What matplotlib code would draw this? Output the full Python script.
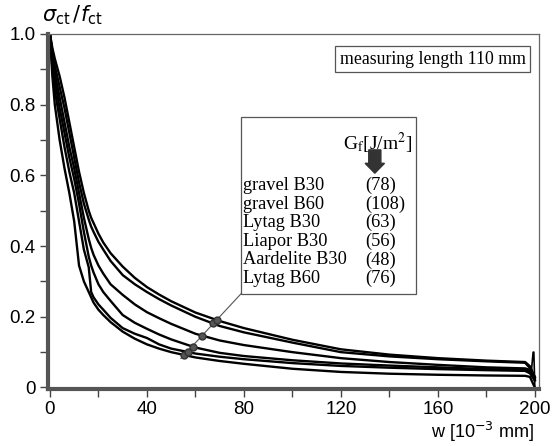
import matplotlib
matplotlib.use("Agg")
import matplotlib.pyplot as plt
from matplotlib.patches import FancyArrow
import numpy as np

# crack opening w [10^-3 mm], shared grid for all curves
w = [0, 1, 2, 4, 6, 8, 10, 12, 14, 16, 17, 18, 20, 22, 25, 30, 35, 40, 45, 50, 60, 70, 80,
     100, 120, 140, 160, 180, 196, 198, 200]

# normalised stress sigma_ct/f_ct, lowest curve first
curve_a = [1.0, 0.88, 0.80, 0.70, 0.62, 0.55, 0.47, 0.345, 0.30, 0.27, 0.255, 0.24,
           0.22, 0.205, 0.185, 0.158, 0.138, 0.122, 0.110, 0.100, 0.085, 0.075, 0.067,
           0.053, 0.044, 0.039, 0.036, 0.034, 0.033, 0.030, 0.0]
curve_b = [1.0, 0.90, 0.84, 0.76, 0.68, 0.61, 0.55, 0.47, 0.39, 0.34, 0.27, 0.255,
           0.235, 0.22, 0.197, 0.168, 0.152, 0.140, 0.122, 0.110, 0.096, 0.087, 0.080,
           0.069, 0.061, 0.056, 0.052, 0.049, 0.047, 0.040, 0.02]
curve_c = [1.0, 0.92, 0.87, 0.79, 0.72, 0.65, 0.59, 0.52, 0.44, 0.37, 0.345, 0.325,
           0.292, 0.27, 0.245, 0.205, 0.183, 0.166, 0.150, 0.136, 0.113, 0.098, 0.089,
           0.077, 0.068, 0.062, 0.057, 0.052, 0.050, 0.045, 0.025]
curve_d = [1.0, 0.94, 0.89, 0.82, 0.75, 0.68, 0.62, 0.55, 0.48, 0.42, 0.395, 0.375,
           0.345, 0.322, 0.292, 0.262, 0.235, 0.213, 0.196, 0.180, 0.152, 0.133, 0.120,
           0.100, 0.083, 0.072, 0.064, 0.057, 0.054, 0.050, 0.03]
curve_e = [1.0, 0.95, 0.91, 0.85, 0.79, 0.72, 0.65, 0.58, 0.52, 0.475, 0.455, 0.44,
           0.412, 0.39, 0.358, 0.318, 0.292, 0.270, 0.250, 0.232, 0.200, 0.174, 0.156,
           0.127, 0.100, 0.088, 0.080, 0.074, 0.070, 0.055, 0.02]
curve_f = [1.0, 0.96, 0.93, 0.88, 0.82, 0.75, 0.68, 0.61, 0.55, 0.50, 0.48, 0.465,
           0.435, 0.41, 0.38, 0.342, 0.310, 0.284, 0.263, 0.244, 0.212, 0.188, 0.168,
           0.135, 0.108, 0.093, 0.083, 0.076, 0.072, 0.060, 0.03]
curves = [curve_a, curve_b, curve_c, curve_d, curve_e, curve_f]

# little kink at the end of the test
spike_w = [198.5, 199.3, 199.6, 200]
spike_s = [0.04, 0.1, 0.1, 0.0]

# where the leader line crosses each curve
marker_w = [55.3, 56.9, 58.9, 62.7, 67.2, 68.9]

names = ["gravel B30", "gravel B60", "Lytag B30", "Liapor B30", "Aardelite B30", "Lytag B60"]
gf = ["(78)", "(108)", "(63)", "(56)", "(48)", "(76)"]

sans = ["Liberation Sans", "DejaVu Sans"]
serif = ["Liberation Serif", "DejaVu Serif"]

fig = plt.figure(figsize=(5.55, 4.46), dpi=100)
ax = fig.add_axes([0.0865, 0.128, 0.885, 0.796])

for s in curves:
    ax.plot(w, s, color="black", lw=1.7, solid_joinstyle="round")
ax.plot(spike_w, spike_s, color="black", lw=1.2)

for mw, s in zip(marker_w, curves):
    ax.plot(mw, np.interp(mw, w, s), "o", ms=5, color="#555555", mec="#333333", zorder=5)

# leader line from legend box corner through the markers
ax.plot([78.8, 54.0], [0.265, 0.082], color="#555555", lw=0.8, zorder=4)

ax.set_xlim(-0.8, 201.8)
ax.set_ylim(-0.004, 1.0)
ax.set_xticks([0, 40, 80, 120, 160, 200])
ax.set_xticks(np.arange(20, 200, 40), minor=True)
ax.set_yticks([0, 0.2, 0.4, 0.6, 0.8, 1.0])
ax.set_yticklabels(["0", "0.2", "0.4", "0.6", "0.8", "1.0"])
ax.set_yticks([0.1, 0.3, 0.5, 0.7, 0.9], minor=True)
ax.tick_params(which="both", direction="out", length=6, width=1, color="#444444")
ax.tick_params(labelsize=13.5, pad=3)
for lab in ax.get_xticklabels() + ax.get_yticklabels():
    lab.set_family(sans)

for side in ["left", "bottom"]:
    ax.spines[side].set_linewidth(3)
    ax.spines[side].set_color("#555555")
for side in ["top", "right"]:
    ax.spines[side].set_linewidth(0.9)
    ax.spines[side].set_color("#666666")

# legend box
box = plt.Rectangle((78.8, 0.265), 72.2, 0.5, fill=False, ec="#555555", lw=0.9, zorder=6)
ax.add_patch(box)
ax.text(149.6, 0.69, r"G$_\mathrm{f}$[J/m$^2$]", family=serif, fontsize=14,
        ha="right", va="center", math_fontfamily="stix")
ax.add_patch(FancyArrow(134.0, 0.672, 0, -0.066, width=5, head_width=8,
                        head_length=0.028, length_includes_head=True,
                        color="#333333", zorder=6))
for i, (n, g) in enumerate(zip(names, gf)):
    yy = 0.571 - i * 0.0525
    ax.text(79.8, yy, n, family=serif, fontsize=13.2, va="center")
    ax.text(130.2, yy, g, family=serif, fontsize=13.2, va="center")

# measuring length note
ax.text(157.9, 0.928, "measuring length 110 mm", family=serif, fontsize=12.8,
        ha="center", va="center",
        bbox=dict(boxstyle="square,pad=0.25", fc="white", ec="#555555", lw=0.9))

fig.text(0.13, 0.965, r"$\sigma_{\mathrm{ct}}\,/f_{\mathrm{ct}}$", fontsize=15,
         ha="center", va="center", family=sans, math_fontfamily="dejavusans")
fig.text(0.87, 0.031, r"w [10$^{-3}$ mm]", fontsize=13, ha="center", va="center",
         family=sans)

fig.savefig("out.png", dpi=100)
